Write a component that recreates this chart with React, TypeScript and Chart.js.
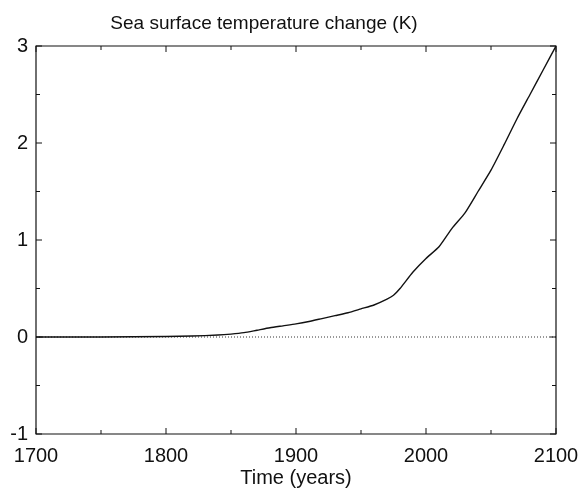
import React, { useEffect, useRef } from "react";
import { Chart, registerables } from "chart.js";

Chart.register(...registerables);

const TITLE = "Sea surface temperature change (K)";
const X_TITLE = "Time (years)";

const years = [1700, 1750, 1800, 1820, 1840, 1850, 1860, 1870, 1880, 1890, 1900, 1910, 1920, 1930, 1940, 1950, 1960, 1970, 1975, 1980, 1990, 2000, 2010, 2020, 2030, 2040, 2050, 2060, 2070, 2080, 2090, 2100];
const sstChange = [0, 0, 0.005, 0.01, 0.02, 0.03, 0.045, 0.07, 0.095, 0.115, 0.135, 0.16, 0.19, 0.22, 0.25, 0.29, 0.33, 0.39, 0.43, 0.5, 0.67, 0.81, 0.93, 1.12, 1.28, 1.5, 1.72, 1.98, 2.25, 2.5, 2.75, 3.0];

const zeroYears = [1700, 2100];
const zeroValues = [0, 0];

const X_MIN = 1700;
const X_MAX = 2100;
const X_STEP = 100;
const X_MINOR = 50;
const Y_MIN = -1;
const Y_MAX = 3;
const Y_STEP = 1;
const Y_MINOR = 0.5;

const FONT = "'Liberation Sans', Arial, Helvetica, sans-serif";

const frameTicks = {
  id: "frameTicks",
  afterDatasetsDraw(chart: any) {
    const { ctx, chartArea } = chart;
    const { left, right, top, bottom } = chartArea;
    const xs = chart.scales.x;
    const ys = chart.scales.y;
    ctx.save();
    ctx.strokeStyle = "#111";
    ctx.lineWidth = 1.2;
    ctx.beginPath();
    ctx.rect(left, top, right - left, bottom - top);
    ctx.stroke();
    ctx.lineWidth = 1;
    ctx.beginPath();
    for (let v = X_MIN; v <= X_MAX + 1e-6; v += X_MINOR) {
      const px = xs.getPixelForValue(v);
      const len = Math.abs((v - X_MIN) % X_STEP) < 1e-6 ? 6 : 4;
      ctx.moveTo(px, bottom);
      ctx.lineTo(px, bottom - len);
      ctx.moveTo(px, top);
      ctx.lineTo(px, top + len);
    }
    for (let v = Y_MIN; v <= Y_MAX + 1e-6; v += Y_MINOR) {
      const py = ys.getPixelForValue(v);
      const len = Math.abs((v - Y_MIN) % Y_STEP) < 1e-6 ? 6 : 4;
      ctx.moveTo(left, py);
      ctx.lineTo(left + len, py);
      ctx.moveTo(right, py);
      ctx.lineTo(right - len, py);
    }
    ctx.stroke();
    ctx.restore();
  },
  afterDraw(chart: any) {
    const { ctx, chartArea } = chart;
    ctx.save();
    ctx.fillStyle = "#111";
    ctx.font = `19px ${FONT}`;
    ctx.textAlign = "center";
    ctx.textBaseline = "alphabetic";
    ctx.fillText(TITLE, chartArea.left + 228, 29);
    ctx.restore();
  },
};

export default function App() {
  const ref = useRef<HTMLCanvasElement | null>(null);

  useEffect(() => {
    if (!ref.current) return;
    const chart = new Chart(ref.current, {
      type: "line",
      data: {
        datasets: [
          {
            data: years.map((x, i) => ({ x, y: sstChange[i] })),
            borderColor: "#111",
            borderWidth: 1.4,
            pointRadius: 0,
            tension: 0.2,
            fill: false,
            order: 0,
          },
          {
            data: zeroYears.map((x, i) => ({ x, y: zeroValues[i] })),
            borderColor: "#333",
            borderWidth: 1,
            borderDash: [1, 2],
            pointRadius: 0,
            fill: false,
            order: 1,
          },
        ],
      },
      options: {
        responsive: false,
        animation: false,
        layout: { padding: { left: 0, right: 23, top: 46, bottom: 0 } },
        plugins: {
          legend: { display: false },
          title: { display: false },
          tooltip: { enabled: false },
        },
        scales: {
          x: {
            type: "linear",
            min: X_MIN,
            max: X_MAX,
            grid: { display: false, drawTicks: false },
            border: { display: false },
            ticks: {
              stepSize: X_STEP,
              padding: 10,
              color: "#111",
              font: { family: FONT, size: 20 },
              maxRotation: 0,
              callback: (v: any) => String(v),
            },
            title: {
              display: true,
              text: X_TITLE,
              color: "#111",
              font: { family: FONT, size: 20 },
              padding: { top: 0, bottom: 0 },
            },
            afterFit: (s: any) => {
              s.height = 56;
              s.paddingLeft = 0;
              s.paddingRight = 0;
            },
          },
          y: {
            type: "linear",
            min: Y_MIN,
            max: Y_MAX,
            grid: { display: false, drawTicks: false },
            border: { display: false },
            ticks: {
              stepSize: Y_STEP,
              padding: 8,
              color: "#111",
              font: { family: FONT, size: 20 },
              callback: (v: any) => String(v),
            },
            afterFit: (s: any) => {
              s.width = 36;
              s.paddingTop = 0;
              s.paddingBottom = 0;
            },
          },
        },
      },
      plugins: [frameTicks],
    });
    return () => chart.destroy();
  }, []);

  return (
    <div style={{ position: "absolute", left: 0, top: 0, width: 579, height: 490, background: "#fff" }}>
      <canvas ref={ref} width={579} height={490} />
    </div>
  );
}
